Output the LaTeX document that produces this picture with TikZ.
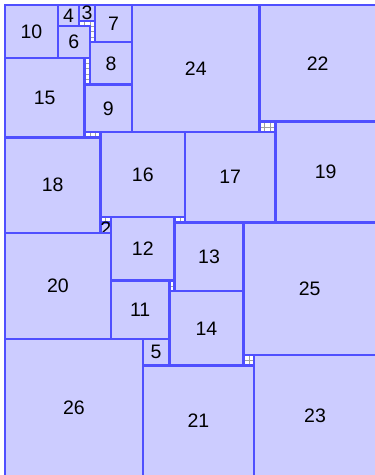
\documentclass[tikz,border=0pt]{standalone}
\usepackage{fontspec}
\setmainfont{Liberation Sans}
\definecolor{sqfill}{HTML}{CCCCFF}
\definecolor{sqline}{HTML}{4F4FFF}
\definecolor{gridgray}{HTML}{A0A0A0}
\newcommand\sqbox[3]{\node[sqstyle,minimum size=#3*5.3pt] (s#3) at (#1*5.3pt,-#2*5.3pt) {#3};}
\begin{document}
\begin{tikzpicture}[
  sqstyle/.style={draw=sqline,fill=sqfill,line width=2.4pt,anchor=north west,inner sep=0pt,outer sep=0pt,font=\fontsize{19.5pt}{20pt}\selectfont},
  gridline/.style={draw=gridgray,line width=0.5pt}
]
\useasboundingbox (-5pt,5pt) rectangle (370pt,-470pt);
\fill[white] (-5pt,5pt) rectangle (370pt,-470pt);
\draw[gridline,step=5.3pt] (0,0) grid (371pt,-471.7pt);
\sqbox{0}{0}{10}
\sqbox{10}{0}{4}
\sqbox{14}{0}{3}
\sqbox{17}{0}{7}
\sqbox{10}{4}{6}
\sqbox{16}{7}{8}
\sqbox{0}{10}{15}
\sqbox{15}{15}{9}
\sqbox{24}{0}{24}
\sqbox{48}{0}{22}
\sqbox{51}{22}{19}
\sqbox{18}{24}{16}
\sqbox{34}{24}{17}
\sqbox{0}{25}{18}
\sqbox{18}{41}{2}
\sqbox{20}{40}{12}
\sqbox{32}{41}{13}
\sqbox{45}{41}{25}
\sqbox{0}{43}{20}
\sqbox{20}{52}{11}
\sqbox{31}{54}{14}
\sqbox{26}{63}{5}
\sqbox{0}{63}{26}
\sqbox{26}{68}{21}
\sqbox{47}{66}{23}
\end{tikzpicture}
\end{document}
